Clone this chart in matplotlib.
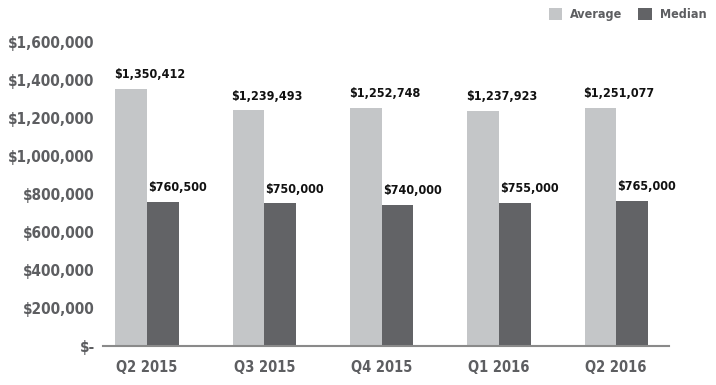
import matplotlib
matplotlib.use("Agg")
import matplotlib.pyplot as plt
import numpy as np

quarters = ["Q2 2015", "Q3 2015", "Q4 2015", "Q1 2016", "Q2 2016"]
average = [1350412, 1239493, 1252748, 1237923, 1251077]
median = [760500, 750000, 740000, 755000, 765000]
y_ticks = [0, 200000, 400000, 600000, 800000, 1000000, 1200000, 1400000, 1600000]

AVG_COLOR = "#c4c6c8"
MED_COLOR = "#626366"
TICK_COLOR = "#5d5e61"

plt.rcParams["font.family"] = ["DejaVu Sans"]
plt.rcParams["font.stretch"] = "condensed"
plt.rcParams["font.weight"] = "bold"


def money(v):
    return "$-" if v == 0 else f"${v:,.0f}"


fig = plt.figure(figsize=(7.16, 3.85), dpi=100)
ax = fig.add_axes([103 / 716, 1 - 346 / 385, 566 / 716, 304 / 385])

x = np.arange(len(quarters))
w = 0.27
ax.bar(x - w / 2, average, w, color=AVG_COLOR, label="Average")
ax.bar(x + w / 2, median, w, color=MED_COLOR, label="Median")

for xi, a, m in zip(x, average, median):
    ax.text(xi - w - 0.01, a + 42000, money(a), ha="left", va="bottom",
            fontsize=9, fontweight="bold", color="#111111")
    ax.text(xi + 0.01, m + 42000, money(m), ha="left", va="bottom",
            fontsize=9, fontweight="bold", color="#111111")

ax.set_xlim(-0.375, 4.45)
ax.set_ylim(0, 1600000)
ax.set_yticks(y_ticks)
ax.set_yticklabels([money(v) for v in y_ticks])
ax.set_xticks(x)
ax.set_xticklabels(quarters)
ax.tick_params(axis="both", length=0, colors=TICK_COLOR)
ax.tick_params(axis="y", pad=6, labelsize=11)
ax.tick_params(axis="x", pad=10, labelsize=10.5)
for lab in ax.get_xticklabels() + ax.get_yticklabels():
    lab.set_fontweight("bold")

for side in ["top", "right", "left"]:
    ax.spines[side].set_visible(False)
ax.spines["bottom"].set_color("#8a8a8a")
ax.spines["bottom"].set_linewidth(1.5)

leg = fig.legend(loc="upper right", bbox_to_anchor=(0.997, 1.0), ncol=2, frameon=False,
                 prop={"size": 9, "weight": "bold", "stretch": "condensed"},
                 handlelength=1.1, handleheight=1.1,
                 handletextpad=0.6, columnspacing=1.3, borderaxespad=0.2)
for t in leg.get_texts():
    t.set_color(TICK_COLOR)

fig.savefig("out.png", dpi=100)
